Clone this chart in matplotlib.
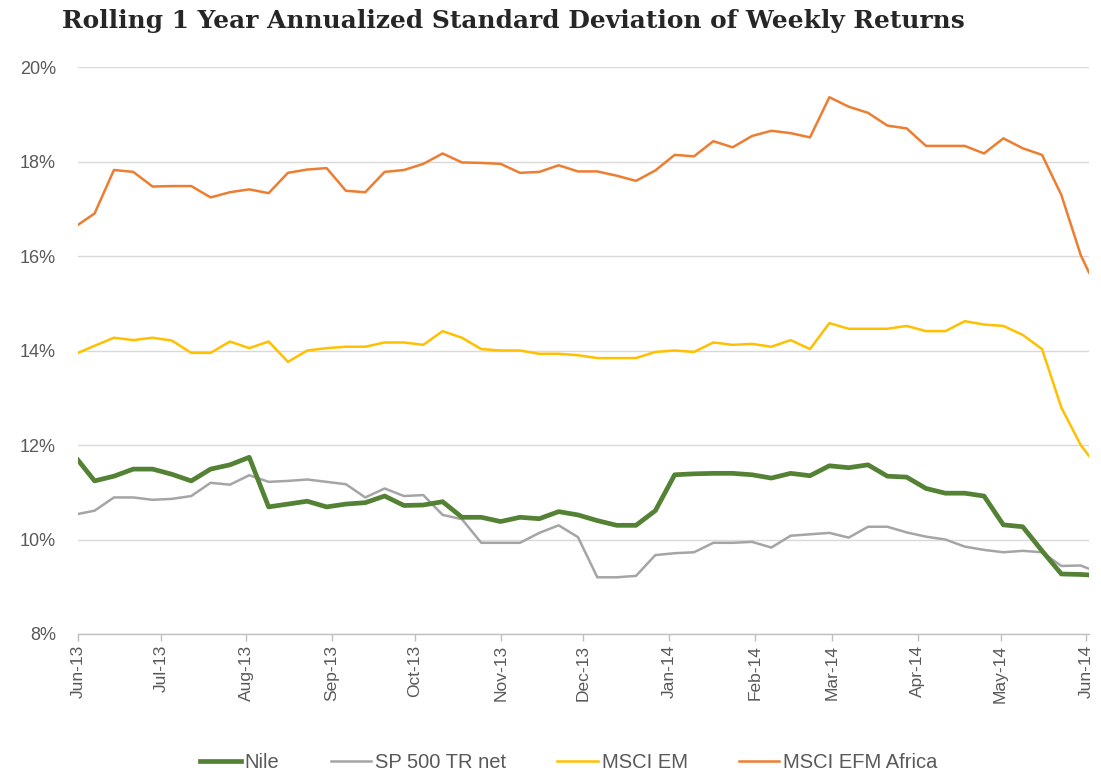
import matplotlib
matplotlib.use("Agg")
import matplotlib.pyplot as plt
import matplotlib.dates as mdates
import pandas as pd
import numpy as np

# ---- data ----
dates = ([pd.Timestamp("2013-06-01")]
         + list(pd.date_range("2013-06-07", "2014-05-30", freq="7D"))
         + [pd.Timestamp("2014-06-02")])

nile = [11.68, 11.24, 11.34, 11.49, 11.49, 11.38, 11.24, 11.49, 11.58, 11.74,
        10.69, 10.75, 10.81, 10.69, 10.75, 10.78, 10.92, 10.72, 10.73, 10.80,
        10.47, 10.47, 10.38, 10.47, 10.44, 10.59, 10.52, 10.40, 10.30, 10.30,
        10.61, 11.37, 11.39, 11.40, 11.40, 11.37, 11.30, 11.40, 11.35, 11.56,
        11.52, 11.58, 11.34, 11.32, 11.08, 10.98, 10.98, 10.92, 10.31, 10.27,
        9.76, 9.27, 9.26, 9.25]

sp500 = [10.54, 10.61, 10.89, 10.89, 10.84, 10.86, 10.92, 11.20, 11.16, 11.36,
         11.22, 11.24, 11.27, 11.22, 11.17, 10.89, 11.08, 10.92, 10.94, 10.52,
         10.43, 9.93, 9.93, 9.93, 10.14, 10.30, 10.05, 9.20, 9.20, 9.23,
         9.67, 9.71, 9.73, 9.93, 9.93, 9.95, 9.83, 10.08, 10.11, 10.14,
         10.04, 10.27, 10.27, 10.15, 10.06, 10.00, 9.85, 9.78, 9.73, 9.76,
         9.73, 9.44, 9.45, 9.38]

msci_em = [13.95, 14.10, 14.27, 14.22, 14.27, 14.21, 13.95, 13.95, 14.19, 14.05,
           14.19, 13.76, 14.00, 14.05, 14.08, 14.08, 14.17, 14.17, 14.12, 14.41,
           14.27, 14.03, 14.00, 14.00, 13.93, 13.93, 13.90, 13.84, 13.84, 13.84,
           13.97, 14.00, 13.97, 14.17, 14.12, 14.14, 14.08, 14.22, 14.03, 14.58,
           14.46, 14.46, 14.46, 14.52, 14.41, 14.41, 14.62, 14.55, 14.52, 14.33,
           14.03, 12.79, 12.00, 11.77]

msci_africa = [16.66, 16.90, 17.82, 17.78, 17.47, 17.48, 17.48, 17.24, 17.35, 17.41,
               17.33, 17.76, 17.83, 17.86, 17.38, 17.35, 17.78, 17.82, 17.95, 18.17,
               17.98, 17.97, 17.95, 17.76, 17.78, 17.92, 17.79, 17.79, 17.70, 17.59,
               17.81, 18.14, 18.11, 18.43, 18.30, 18.54, 18.65, 18.60, 18.51, 19.36,
               19.16, 19.03, 18.76, 18.70, 18.33, 18.33, 18.33, 18.17, 18.49, 18.28,
               18.14, 17.29, 16.02, 15.65]

series_names = ["Nile", "SP 500 TR net", "MSCI EM", "MSCI EFM Africa"]
title = "Rolling 1 Year Annualized Standard Deviation of Weekly Returns"
y_ticks = [8, 10, 12, 14, 16, 18, 20]

# ---- plot ----
W, H = 1101, 772
fig = plt.figure(figsize=(W / 100, H / 100), dpi=100)
ax = fig.add_axes([78 / W, 1 - 634 / H, (1089 - 78) / W, (634 - 67) / H])

ax.plot(dates, msci_africa, color="#ed7d31", lw=1.8, label=series_names[3], zorder=3)
ax.plot(dates, msci_em, color="#ffc000", lw=1.8, label=series_names[2], zorder=3)
ax.plot(dates, sp500, color="#a5a5a5", lw=1.8, label=series_names[1], zorder=3)
ax.plot(dates, nile, color="#548235", lw=3.4, label=series_names[0], zorder=4)

ax.set_ylim(8, 20)
ax.set_yticks(y_ticks)
ax.set_yticklabels([f"{v}%" for v in y_ticks])
ax.set_xlim(pd.Timestamp("2013-06-01"), pd.Timestamp("2014-06-02"))
ax.xaxis.set_major_locator(mdates.MonthLocator())
ax.xaxis.set_major_formatter(mdates.DateFormatter("%b-%y"))

ax.grid(axis="y", color="#d9d9d9", lw=1)
ax.set_axisbelow(True)
for s in ["top", "right", "left"]:
    ax.spines[s].set_visible(False)
ax.spines["bottom"].set_color("#bfbfbf")
ax.spines["bottom"].set_linewidth(1)

label_font = ["Liberation Sans", "DejaVu Sans"]
ax.tick_params(axis="y", length=0, pad=16, labelsize=13, labelcolor="#595959")
ax.tick_params(axis="x", length=5, width=1, color="#bfbfbf", direction="out",
               pad=3, labelsize=12.5, labelcolor="#595959", labelrotation=90)
for lbl in ax.get_xticklabels() + ax.get_yticklabels():
    lbl.set_family(label_font)

ttl = fig.text(62 / W, 1 - 28 / H, title, ha="left", va="baseline",
               fontsize=16, fontweight="bold", family=["DejaVu Serif"],
               color="#262626")
# scale title so it spans the same width as in the reference
fig.canvas.draw()
bb = ttl.get_window_extent()
ttl.set_fontsize(16 * (965 - 62) / bb.width)

handles, labels = ax.get_legend_handles_labels()
order = [3, 2, 1, 0]
leg = fig.legend([handles[i] for i in order], [labels[i] for i in order],
                 loc="center", bbox_to_anchor=(569 / W, 1 - 763 / H), ncol=4,
                 frameon=False, handlelength=2.0, handletextpad=0.2,
                 columnspacing=2.55,
                 prop={"family": ["Liberation Sans", "DejaVu Sans"], "size": 14.5})
for t in leg.get_texts():
    t.set_color("#595959")

fig.savefig("out.png", dpi=100, facecolor="white")
